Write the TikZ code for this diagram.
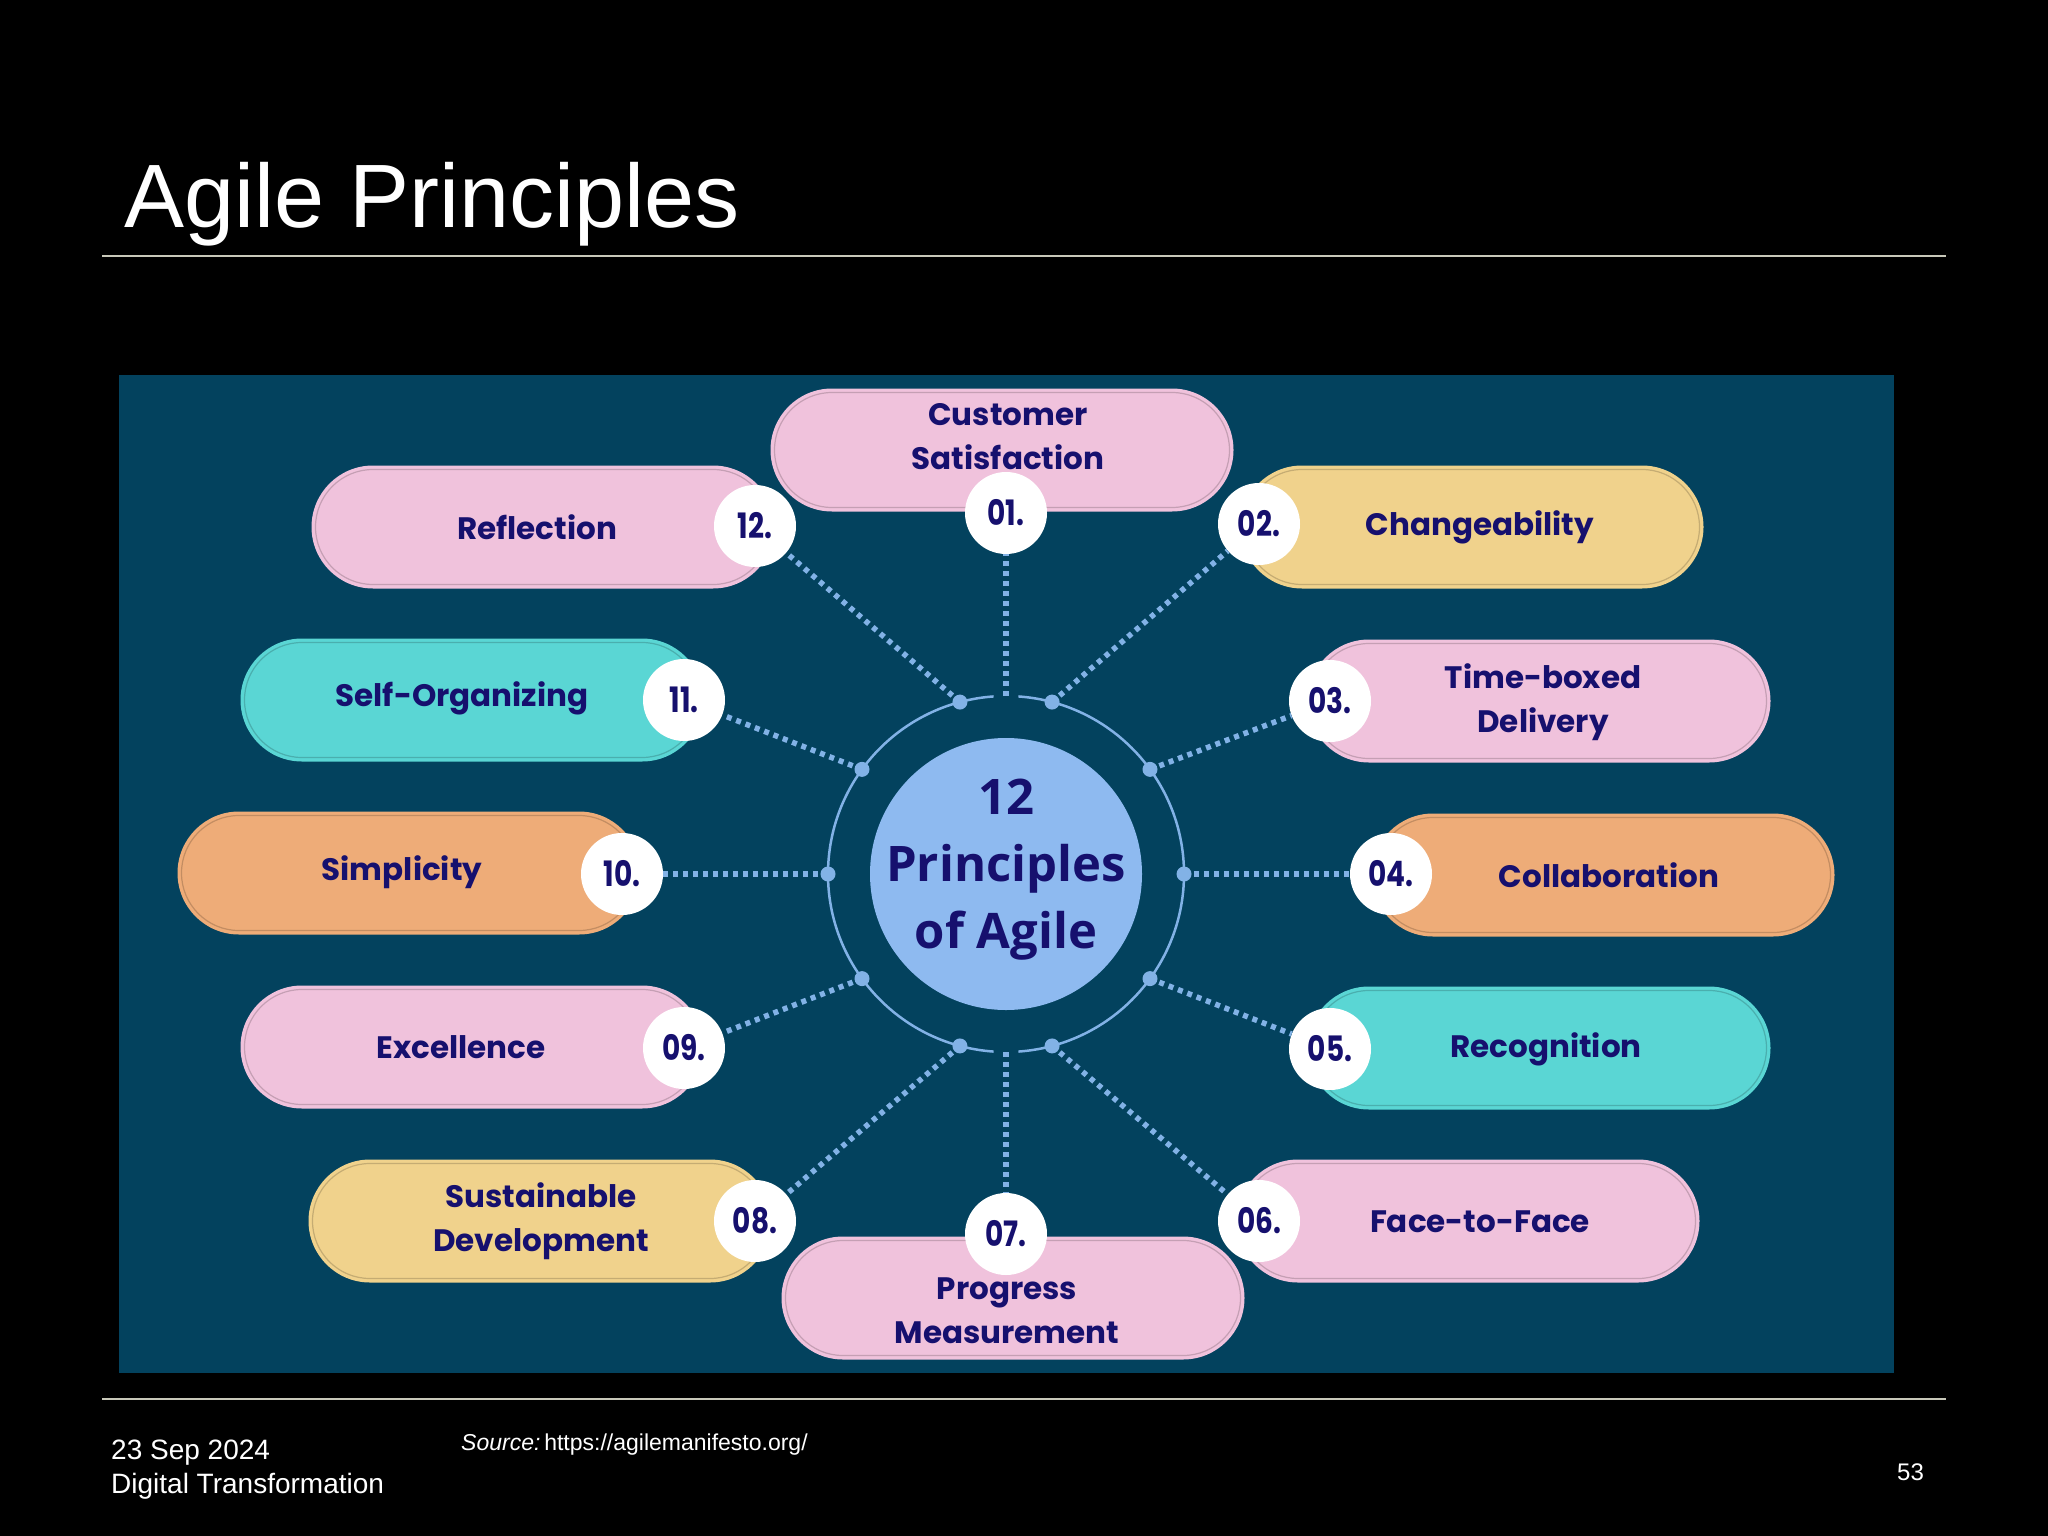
\documentclass[tikz,border=0pt]{standalone}
\usepackage{fontspec}
\usepackage{graphicx}
\setmainfont{Liberation Sans}
\newfontfamily\pillfont{Poppins}
\newfontfamily\ctrfont{Open Sans}
\usetikzlibrary{shapes.misc,calc}
\definecolor{panelbg}{RGB}{3,66,94}
\definecolor{pk}{RGB}{240,194,220}
\definecolor{yl}{RGB}{240,210,140}
\definecolor{cy}{RGB}{90,214,212}
\definecolor{og}{RGB}{238,172,120}
\definecolor{navy}{RGB}{22,16,110}
\definecolor{ctrblue}{RGB}{142,186,240}
\definecolor{dotblue}{RGB}{130,178,230}
\definecolor{rulegray}{RGB}{200,200,185}
\newcommand\agpill[3]{% name, position, colour
  \node[pillbox, fill=#3] (#1) at (#2) {};
  \node[pillline, draw=#3!82!black] (#1l) at (#2) {};
}
\begin{document}
\begin{tikzpicture}[x=1pt,y=-1pt,
  pillbox/.style={rounded rectangle, minimum width=463pt, minimum height=123pt, inner sep=0pt},
  pillline/.style={rounded rectangle, minimum width=455pt, minimum height=115pt, inner sep=0pt, line width=1.2pt},
  pilltext/.style={font=\pillfont\bfseries\fontsize{31}{44}\selectfont, text=navy, align=center, inner sep=0pt},
  numc/.style={circle, fill=white, minimum size=82pt, inner sep=0pt, text=navy, font=\pillfont\bfseries\fontsize{35}{38}\selectfont},
  dotline/.style={draw=dotblue, line width=5.5pt, dash pattern=on 5pt off 5pt},
  ringline/.style={draw=dotblue, line width=2.5pt},
  ringdot/.style={fill=dotblue},
  slidetxt/.style={text=white, inner sep=0pt, anchor=base west}
]
\useasboundingbox (0,0) rectangle (2048,1536);
\fill[black] (0,0) rectangle (2048,1536);
% title and rules
\node[slidetxt, font=\fontsize{90}{100}\selectfont] (title) at (124,227) {Agile Principles};
\draw[rulegray, line width=2pt] (102,256) -- (1946,256);
\draw[rulegray, line width=2pt] (102,1399) -- (1946,1399);
% panel
\fill[panelbg] (119,375) rectangle (1894,1373);
% ring and centre
\coordinate (C) at (1006,874);
\draw[ringline] ($(C)+(-86:178)$) arc[start angle=-86, end angle=86, radius=178];
\draw[ringline] ($(C)+(94:178)$) arc[start angle=94, end angle=266, radius=178];
\node[circle, fill=ctrblue, minimum size=272pt, inner sep=0pt] (ctr) at (C) {};
\node[text=navy, align=center, font=\ctrfont\bfseries\fontsize{49}{67}\selectfont, inner sep=0pt] (ctrtxt) at (1006,870) {12\\Principles\\of Agile};
% ring points
\foreach \a in {-75,-105,-144,180,144,105,75,36,0,-36} {
  \coordinate (d\a) at ($(C)+(\a:178)$);
}
\coordinate (dtop) at ($(C)+(-90:178)$);
\coordinate (dbot) at ($(C)+(90:178)$);
% pills
\agpill{p01}{1002,450}{pk}
\agpill{p02}{1472,527}{yl}
\agpill{p03}{1539,701}{pk}
\agpill{p04}{1603,875}{og}
\agpill{p05}{1539,1048}{cy}
\agpill{p06}{1468,1221}{pk}
\agpill{p07}{1013,1298}{pk}
\agpill{p08}{540,1221}{yl}
\agpill{p09}{472,1047}{pk}
\agpill{p10}{409,873}{og}
\agpill{p11}{472,700}{cy}
\agpill{p12}{543,527}{pk}
% pill texts
\node[pilltext] (t01) at (1008,437) {Customer\\Satisfaction};
\node[pilltext] (t02) at (1480,527) {Changeability};
\node[pilltext] (t03) at (1543,702) {Time-boxed\\Delivery};
\node[pilltext] (t04) at (1609,875) {Collaboration};
\node[pilltext] (t05) at (1546,1049) {Recognition};
\node[pilltext] (t06) at (1480,1222) {Face-to-Face};
\node[pilltext] (t07) at (1007,1311) {Progress\\Measurement};
\node[pilltext] (t08) at (541,1221) {Sustainable\\Development};
\node[pilltext] (t09) at (461,1047) {Excellence};
\node[pilltext] (t10) at (402,872) {Simplicity};
\node[pilltext] (t11) at (462,698) {Self-Organizing};
\node[pilltext] (t12) at (537,527) {Reflection};
% number circles
\node[numc] (n01) at (1006,513) {\scalebox{0.8}[1]{01.}};
\node[numc] (n02) at (1259,524) {\scalebox{0.8}[1]{02.}};
\node[numc] (n03) at (1330,701) {\scalebox{0.8}[1]{03.}};
\node[numc] (n04) at (1391,874) {\scalebox{0.8}[1]{04.}};
\node[numc] (n05) at (1330,1049) {\scalebox{0.8}[1]{05.}};
\node[numc] (n06) at (1259,1221) {\scalebox{0.8}[1]{06.}};
\node[numc] (n07) at (1006,1234) {\scalebox{0.8}[1]{07.}};
\node[numc] (n08) at (755,1221) {\scalebox{0.8}[1]{08.}};
\node[numc] (n09) at (684,1048) {\scalebox{0.8}[1]{09.}};
\node[numc] (n10) at (622,874) {\scalebox{0.8}[1]{10.}};
\node[numc] (n11) at (684,700) {\scalebox{0.8}[1]{11.}};
\node[numc] (n12) at (755,526) {\scalebox{0.8}[1]{12.}};
% connectors
\draw[dotline] (dtop) -- (n01);
\draw[dotline] (d-75) -- (n02);
\draw[dotline] (d-36) -- (n03);
\draw[dotline] (d0) -- (n04);
\draw[dotline] (d36) -- (n05);
\draw[dotline] (d75) -- (n06);
\draw[dotline] (dbot) -- (n07);
\draw[dotline] (d105) -- (n08);
\draw[dotline] (d144) -- (n09);
\draw[dotline] (d180) -- (n10);
\draw[dotline] (d-144) -- (n11);
\draw[dotline] (d-105) -- (n12);
\foreach \a in {-75,-105,-144,180,144,105,75,36,0,-36} {
  \fill[ringdot] (d\a) circle[radius=7.5];
}
% footer
\node[slidetxt, font=\fontsize{28}{32}\selectfont] (date) at (111,1459) {23 Sep 2024};
\node[slidetxt, font=\fontsize{28}{32}\selectfont] (course) at (111,1493) {Digital Transformation};
\node[slidetxt, font=\fontsize{23}{26}\selectfont] (src) at (461,1450) {\textit{Source:}\,https://agilemanifesto.org/};
\node[slidetxt, font=\fontsize{24}{26}\selectfont] (pg) at (1897,1480) {53};
\end{tikzpicture}
\end{document}
